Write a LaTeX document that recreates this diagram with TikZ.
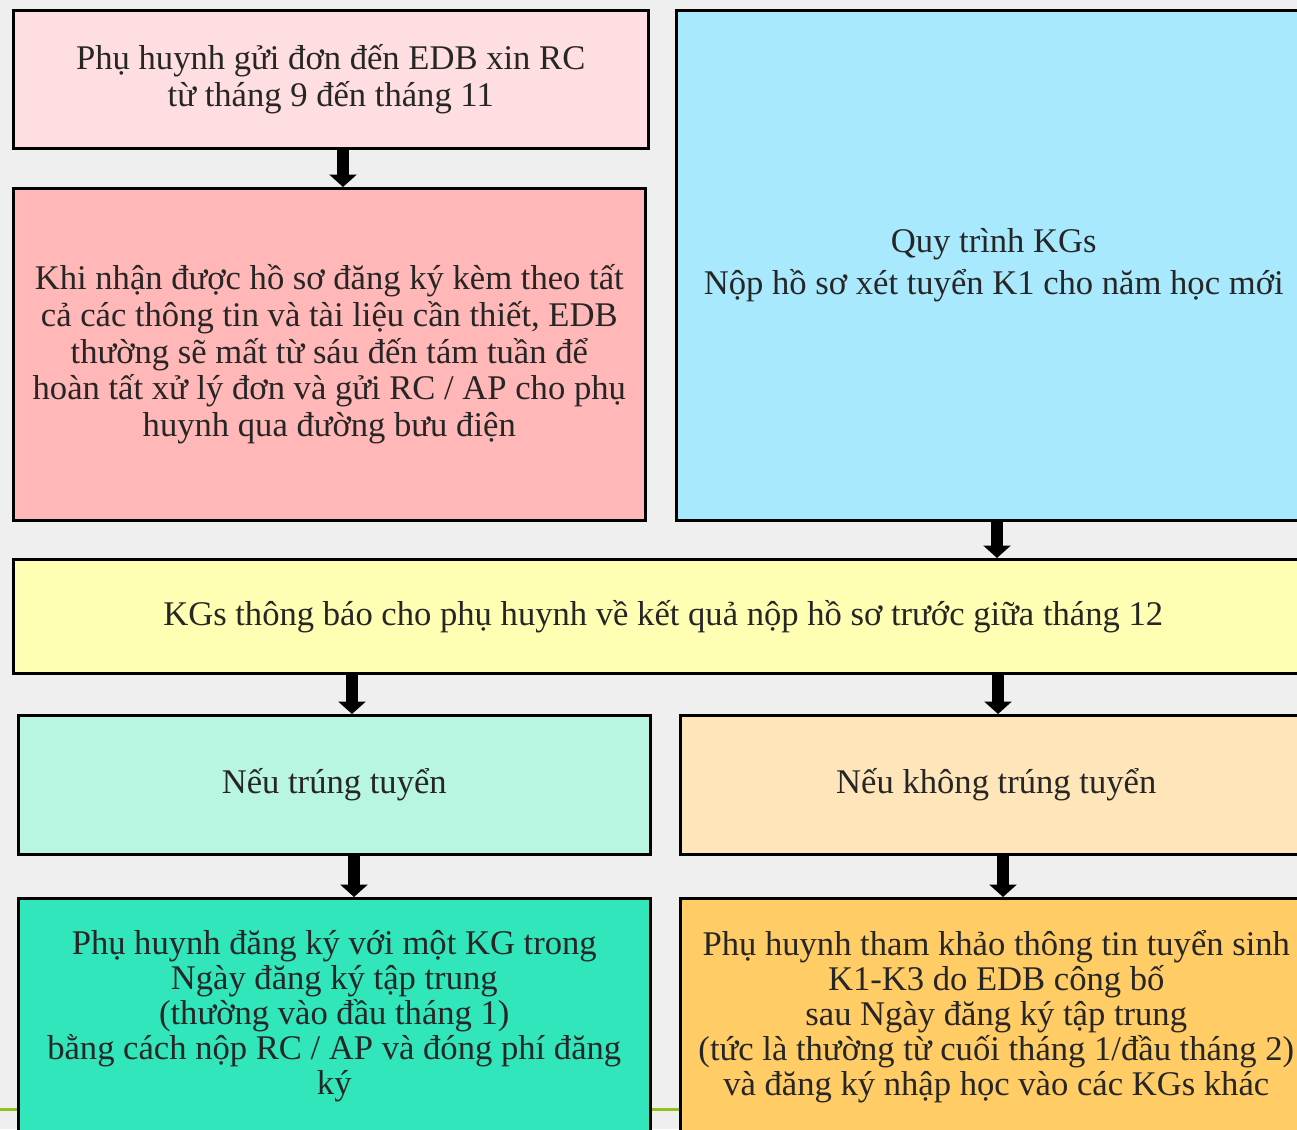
\documentclass[tikz,border=0pt]{standalone}
\usepackage{fontspec}
\setmainfont{Liberation Serif}
\usepackage{xcolor}
\usetikzlibrary{arrows.meta,positioning,calc}

\definecolor{slidebg}{HTML}{EFEFEF}
\definecolor{slideline}{HTML}{92C01F}
\definecolor{txtgray}{HTML}{262626}
\definecolor{pinklight}{HTML}{FFDEE1}
\definecolor{pinkdark}{HTML}{FFB7B7}
\definecolor{skyblue}{HTML}{A9E9FD}
\definecolor{paleyellow}{HTML}{FFFFB3}
\definecolor{mintlight}{HTML}{B9F6E1}
\definecolor{peachlight}{HTML}{FFE5B9}
\definecolor{tealdark}{HTML}{30E6BA}
\definecolor{orangedark}{HTML}{FFCC66}

\begin{document}
\begin{tikzpicture}[
      x = 0.02cm, y = -0.02cm,
      > = {Triangle[width=0.54cm,length=0.25cm]}
    ]
    \tikzstyle{step box} = [draw=black, line width=1.5pt, anchor=north west,
      inner sep=0pt, align=center, text=txtgray,
      font=\fontsize{19.7}{21}\selectfont]
    \tikzstyle{block arrow} = [->, line width=0.25cm, black]
    \useasboundingbox (0,0) rectangle (1297,1129);
    \clip (0,0) rectangle (1297,1129);
    \fill[slidebg] (0,0) rectangle (1297,1129);
    \draw[slideline, line width=0.06cm] (0,1109) -- (1297,1109);

    % left column, top
    \node[step box, fill=pinklight, minimum width=12.7cm, minimum height=2.76cm]
      (apply) at (12,9) {Phụ huynh gửi đơn đến EDB xin RC\\từ tháng 9 đến tháng 11};
    \node[step box, fill=pinkdark, minimum width=12.64cm, minimum height=6.64cm]
      (process) at (12,187) {Khi nhận được hồ sơ đăng ký kèm theo tất\\cả các thông tin và tài liệu cần thiết, EDB\\thường sẽ mất từ sáu đến tám tuần để\\hoàn tất xử lý đơn và gửi RC / AP cho phụ\\huynh qua đường bưu điện};
    % right column, top
    \node[step box, fill=skyblue, minimum width=12.7cm, minimum height=10.2cm,
      font=\fontsize{19.7}{23.8}\selectfont]
      (kgs) at (675,9) {Quy trình KGs\\Nộp hồ sơ xét tuyển K1 cho năm học mới};
    % result
    \node[step box, fill=paleyellow, minimum width=26cm, minimum height=2.28cm]
      (result) at (12,558) {KGs thông báo cho phụ huynh về kết quả nộp hồ sơ trước giữa tháng 12};
    % two outcomes
    \node[step box, fill=mintlight, minimum width=12.64cm, minimum height=2.78cm]
      (pass) at (17,714) {Nếu trúng tuyển};
    \node[step box, fill=peachlight, minimum width=12.64cm, minimum height=2.78cm]
      (fail) at (679,714) {Nếu không trúng tuyển};
    \node[step box, fill=tealdark, minimum width=12.64cm, minimum height=4.72cm,
      font=\fontsize{19.7}{19.9}\selectfont]
      (register) at (17,897) {Phụ huynh đăng ký với một KG trong\\Ngày đăng ký tập trung\\(thường vào đầu tháng 1)\\bằng cách nộp RC / AP và đóng phí đăng\\ký};
    \node[step box, fill=orangedark, minimum width=12.64cm, minimum height=4.72cm,
      font=\fontsize{19.7}{19.9}\selectfont]
      (other) at (679,897) {Phụ huynh tham khảo thông tin tuyển sinh\\K1-K3 do EDB công bố\\sau Ngày đăng ký tập trung\\(tức là thường từ cuối tháng 1/đầu tháng 2)\\và đăng ký nhập học vào các KGs khác};

    \draw[block arrow] (apply.south -| 343,0) -- (process.north -| 343,0);
    \draw[block arrow] (kgs.south -| 997,0) -- (result.north -| 997,0);
    \draw[block arrow] (result.south -| 352,0) -- (pass.north -| 352,0);
    \draw[block arrow] (result.south -| 998,0) -- (fail.north -| 998,0);
    \draw[block arrow] (pass.south -| 354,0) -- (register.north -| 354,0);
    \draw[block arrow] (fail.south -| 1003,0) -- (other.north -| 1003,0);
  \end{tikzpicture}
\end{document}
